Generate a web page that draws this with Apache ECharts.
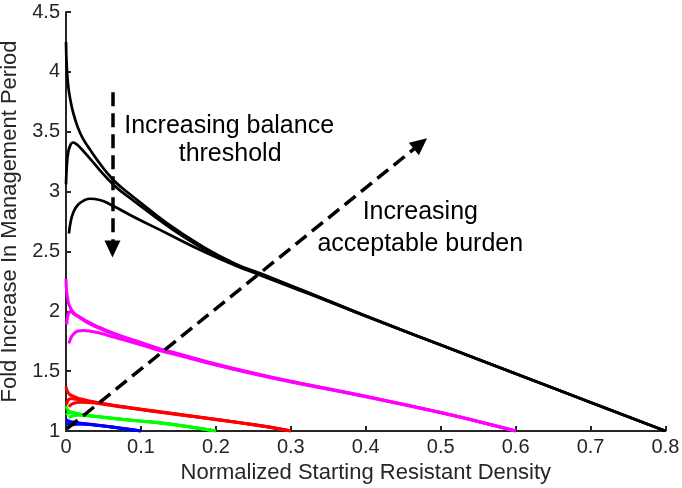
<!DOCTYPE html>
<html><head><meta charset="utf-8">
<script src="https://cdn.jsdelivr.net/npm/echarts@6/dist/echarts.min.js"></script>
<style>html,body{margin:0;padding:0;background:#fff}#c{width:682px;height:488px}</style>
</head><body><div id="c"></div>
<script>
// ---- tick labels ----
const xTickLabels = ['0','0.1','0.2','0.3','0.4','0.5','0.6','0.7','0.8'];
const yTickLabels = ['1','1.5','2','2.5','3','3.5','4','4.5'];

// ---- black curves (acceptable burden 0.8) ----
const black1 = [[0,4.25],[0.001,4.05],[0.003,3.88],[0.006,3.76],[0.01,3.65],[0.019,3.487],[0.03,3.37],[0.045,3.235],[0.062,3.105],[0.075,3.03],[0.09,2.955],[0.135,2.735],[0.18,2.55],[0.225,2.40],[0.26,2.315],[0.3,2.215],[0.33,2.14],[0.4,1.962],[0.5,1.72],[0.6,1.48],[0.7,1.24],[0.8,1.0]];
const black2 = [[0,3.06],[0.001,3.2],[0.003,3.33],[0.006,3.39],[0.009,3.41],[0.013,3.4],[0.02,3.36],[0.03,3.29],[0.045,3.18],[0.062,3.065],[0.075,2.995],[0.09,2.925],[0.135,2.715],[0.18,2.535],[0.225,2.39],[0.26,2.307],[0.3,2.21],[0.33,2.137],[0.4,1.96],[0.5,1.719],[0.6,1.479],[0.7,1.239],[0.8,1.0]];
const black3 = [[0.004,2.65],[0.006,2.74],[0.01,2.83],[0.016,2.89],[0.024,2.925],[0.032,2.94],[0.045,2.93],[0.06,2.89],[0.09,2.79],[0.135,2.65],[0.18,2.51],[0.225,2.385],[0.26,2.3],[0.3,2.203],[0.33,2.132],[0.4,1.958],[0.5,1.718],[0.6,1.478],[0.7,1.239],[0.8,1.0]];

// ---- magenta curves (acceptable burden 0.6) ----
const magenta1 = [[0,2.27],[0.001,2.16],[0.003,2.08],[0.005,2.04],[0.01,1.99],[0.019,1.95],[0.03,1.91],[0.045,1.865],[0.06,1.825],[0.08,1.78],[0.1,1.74],[0.126,1.685],[0.15,1.645],[0.2,1.56],[0.26,1.47],[0.3,1.415],[0.4,1.29],[0.5,1.155],[0.55,1.08],[0.6,1.0]];
const magenta2 = [[0.001,1.89],[0.002,1.95],[0.004,1.99],[0.006,2.0],[0.01,1.98],[0.02,1.94],[0.03,1.9],[0.045,1.857],[0.06,1.818],[0.08,1.775],[0.1,1.735],[0.126,1.68],[0.15,1.64],[0.2,1.556],[0.26,1.467],[0.3,1.413],[0.4,1.288],[0.5,1.154],[0.55,1.08],[0.6,1.0]];
const magenta3 = [[0.004,1.73],[0.006,1.77],[0.01,1.81],[0.016,1.835],[0.023,1.84],[0.035,1.83],[0.05,1.81],[0.06,1.79],[0.08,1.755],[0.1,1.72],[0.126,1.67],[0.15,1.633],[0.2,1.551],[0.26,1.463],[0.3,1.41],[0.4,1.286],[0.5,1.152],[0.55,1.079],[0.6,1.0]];

// ---- red curves (acceptable burden 0.3) ----
const red1 = [[0,1.37],[0.002,1.33],[0.005,1.305],[0.01,1.29],[0.02,1.267],[0.045,1.235],[0.08,1.2],[0.126,1.16],[0.18,1.115],[0.232,1.07],[0.27,1.035],[0.3,1.0]];
const red2 = [[0.001,1.22],[0.003,1.26],[0.006,1.27],[0.01,1.268],[0.02,1.258],[0.045,1.232],[0.08,1.198],[0.126,1.158],[0.18,1.113],[0.232,1.069],[0.27,1.034],[0.3,1.0]];
const red3 = [[0.004,1.2],[0.008,1.225],[0.014,1.237],[0.02,1.24],[0.03,1.238],[0.045,1.228],[0.08,1.196],[0.126,1.157],[0.18,1.112],[0.232,1.068],[0.27,1.034],[0.3,1.0]];

// ---- green curves (acceptable burden 0.2) ----
const green1 = [[0,1.21],[0.002,1.18],[0.005,1.165],[0.01,1.155],[0.02,1.14],[0.045,1.12],[0.08,1.095],[0.126,1.068],[0.16,1.04],[0.2,1.0]];
const green2 = [[0.001,1.13],[0.003,1.15],[0.006,1.155],[0.01,1.152],[0.02,1.138],[0.045,1.118],[0.08,1.094],[0.126,1.067],[0.16,1.039],[0.2,1.0]];
const green3 = [[0.004,1.11],[0.008,1.125],[0.015,1.132],[0.025,1.13],[0.045,1.116],[0.08,1.093],[0.126,1.066],[0.16,1.038],[0.2,1.0]];

// ---- blue curves (acceptable burden 0.1) ----
const blue1 = [[0,1.1],[0.003,1.085],[0.01,1.075],[0.02,1.065],[0.04,1.05],[0.06,1.035],[0.08,1.018],[0.1,1.0]];
const blue2 = [[0.001,1.05],[0.004,1.065],[0.01,1.068],[0.02,1.062],[0.04,1.049],[0.06,1.034],[0.08,1.017],[0.1,1.0]];
const blue3 = [[0.003,1.04],[0.008,1.052],[0.015,1.057],[0.025,1.056],[0.04,1.048],[0.06,1.033],[0.08,1.017],[0.1,1.0]];

// ---- annotations (data coordinates) ----
const thresholdArrow = [[0.062,3.83],[0.062,2.52]];
const burdenArrow = [[0.001,1.017],[0.473,3.40]];
const annotationTexts = ['Increasing balance','threshold','Increasing','acceptable burden'];
const annotationAnchors = [[0.2177,3.55],[0.219,3.31],[0.4728,2.83],[0.4728,2.565]];

const groups = [
  {curves:[black1,black2,black3], color:'#000000', width:2.7},
  {curves:[magenta1,magenta2,magenta3], color:'#ff00ff', width:3},
  {curves:[red1,red2,red3], color:'#ff0000', width:3},
  {curves:[green1,green2,green3], color:'#00ff00', width:3},
  {curves:[blue1,blue2,blue3], color:'#0000ff', width:3}
];

const FONT = "'Liberation Sans', Arial, Helvetica, sans-serif";
const AXC = '#262626';

const series = [];
groups.forEach(g => g.curves.forEach(c => series.push({
  type:'line', data:c, showSymbol:false, symbol:'none', smooth:0.5,
  lineStyle:{color:g.color, width:g.width}, silent:true, emphasis:{disabled:true}
})));

function arrowLine(pts){
  return [{coord:pts[0], symbol:'none'},{coord:pts[1], symbol:'triangle', symbolSize:[16,17]}];
}
series.push({
  type:'line', data:[], silent:true,
  markLine:{
    silent:true, animation:false, symbol:['none','triangle'], symbolSize:[16,17],
    label:{show:false},
    lineStyle:{color:'#000', width:3.5, type:[14,7]},
    itemStyle:{color:'#000'},
    emphasis:{disabled:true},
    data:[arrowLine(thresholdArrow), arrowLine(burdenArrow)]
  }
});

const chart = echarts.init(document.getElementById('c'), null, {renderer:'canvas'});
chart.setOption({
  animation:false,
  backgroundColor:'#fff',
  grid:{left:66, right:16.5, top:12, bottom:57, containLabel:false, outerBoundsMode:'none'},
  xAxis:{
    type:'value', min:0, max:0.8, interval:0.1,
    name:'Normalized Starting Resistant Density', nameLocation:'middle', nameGap:31,
    nameTextStyle:{fontFamily:FONT, fontSize:22, color:AXC},
    axisLine:{show:true, onZero:false, lineStyle:{color:AXC, width:2}},
    axisTick:{show:true, inside:true, length:5, lineStyle:{color:AXC, width:2}},
    axisLabel:{fontFamily:FONT, fontSize:20, color:AXC, margin:6,
      formatter:v => xTickLabels[Math.round(v/0.1)]},
    splitLine:{show:false}
  },
  yAxis:{
    type:'value', min:1, max:4.5, interval:0.5,
    name:'Fold Increase In Management Period', nameLocation:'middle', nameGap:42,
    nameTextStyle:{fontFamily:FONT, fontSize:22, color:AXC},
    axisLine:{show:true, onZero:false, lineStyle:{color:AXC, width:2}},
    axisTick:{show:true, inside:true, length:5, lineStyle:{color:AXC, width:2}},
    axisLabel:{fontFamily:FONT, fontSize:20, color:AXC, margin:6,
      formatter:v => yTickLabels[Math.round((v-1)/0.5)]},
    splitLine:{show:false}
  },
  series: series
});

const texts = annotationTexts.map((t,i) => {
  const p = chart.convertToPixel({gridIndex:0}, annotationAnchors[i]);
  return {type:'text', x:p[0], y:p[1], silent:true, z:100,
    style:{text:t, fontFamily:FONT, fontSize:25, fill:'#000', align:'center', verticalAlign:'middle'}};
});
chart.setOption({graphic:texts});
</script>
</body></html>
